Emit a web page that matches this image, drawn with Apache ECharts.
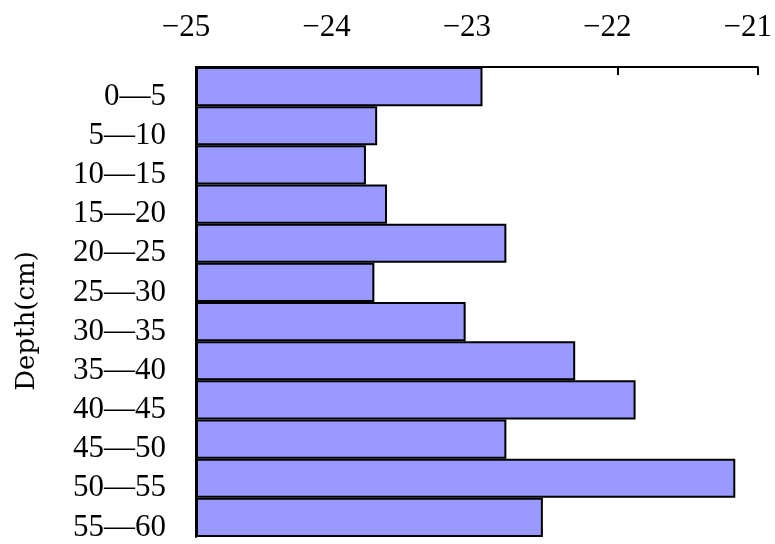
<!DOCTYPE html>
<html>
<head>
<meta charset="utf-8">
<script src="https://cdn.jsdelivr.net/npm/echarts@6/dist/echarts.min.js"></script>
<style>
  html, body { margin: 0; padding: 0; background: #fff; overflow: hidden; }
  #chart { width: 775px; height: 544px; }
</style>
</head>
<body>
<div id="chart"></div>
<script>
// Soil depth intervals (cm), top to bottom
const depthLabels = ['0—5', '5—10', '10—15', '15—20', '20—25', '25—30',
                     '30—35', '35—40', '40—45', '45—50', '50—55', '55—60'];
// Measured value per depth interval
const depthValues = [-22.96, -23.71, -23.79, -23.64, -22.79, -23.73,
                     -23.08, -22.30, -21.87, -22.79, -21.16, -22.53];
// Value axis range and ticks
const axisMin = -25;
const axisMax = -21;
const axisStep = 1;

const serif = '"Liberation Serif", "DejaVu Serif", serif';

const chart = echarts.init(document.getElementById('chart'), null, { renderer: 'canvas' });

chart.setOption({
  backgroundColor: '#ffffff',
  animation: false,
  grid: { left: 196, right: 16, top: 67, bottom: 7, containLabel: false },
  xAxis: {
    type: 'value',
    position: 'top',
    min: axisMin,
    max: axisMax,
    interval: axisStep,
    startValue: axisMin,
    axisLine: { show: true, lineStyle: { color: '#000', width: 2 } },
    axisTick: { show: true, inside: true, length: 8, lineStyle: { color: '#000', width: 2 } },
    splitLine: { show: false },
    axisLabel: {
      color: '#000',
      fontFamily: serif,
      fontSize: 31,
      margin: 24,
      formatter: v => '{t|' + String(v).replace('-', '\u2212') + '}',
      rich: {
        t: { color: '#000', fontFamily: serif, fontSize: 31, padding: [0, 20, 0, 0] }
      }
    }
  },
  yAxis: {
    type: 'category',
    inverse: true,
    data: depthLabels,
    name: 'Depth(cm)',
    nameLocation: 'middle',
    nameRotate: 90,
    nameGap: 156,
    nameTextStyle: { color: '#000', fontFamily: '"DejaVu Serif", serif', fontSize: 26, padding: [0, 38, 0, 0] },
    axisLine: { show: true, lineStyle: { color: '#000', width: 2 } },
    axisTick: { show: false },
    axisLabel: {
      interval: 0,
      hideOverlap: false,
      color: '#000',
      fontFamily: serif,
      fontSize: 31,
      margin: 30,
      verticalAlign: 'top',
      lineHeight: 20
    }
  },
  series: [{
    type: 'bar',
    data: depthValues,
    barCategoryGap: '0%',
    itemStyle: { color: '#9999FF', borderColor: '#000', borderWidth: 2 }
  }]
});
</script>
</body>
</html>
